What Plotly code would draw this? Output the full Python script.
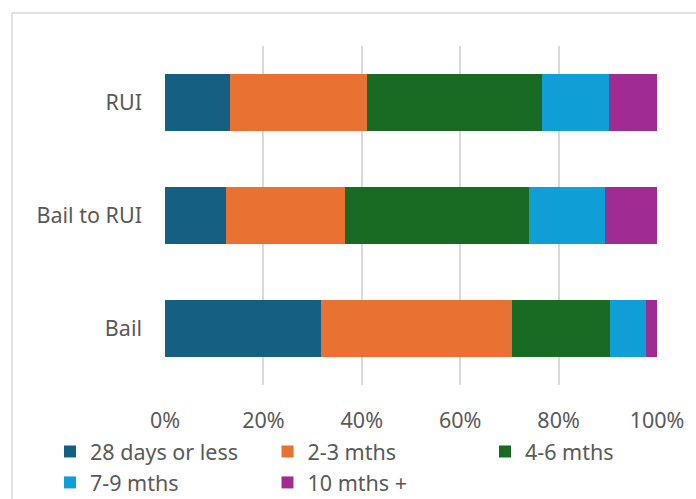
import plotly.graph_objects as go

categories = ["Bail", "Bail to RUI", "RUI"]
series_names = ["28 days or less", "2-3 mths", "4-6 mths", "7-9 mths", "10 mths +"]
days28 = [31.8, 12.3, 13.2]
m2_3 = [38.8, 24.2, 27.8]
m4_6 = [19.9, 37.4, 35.6]
m7_9 = [7.2, 15.6, 13.6]
m10p = [2.3, 10.5, 9.8]
tick_vals = [0, 20, 40, 60, 80, 100]
tick_text = ["0%", "20%", "40%", "60%", "80%", "100%"]

colors = ["#156082", "#E97132", "#196B24", "#0F9ED5", "#A02B93"]
values = [days28, m2_3, m4_6, m7_9, m10p]

FONT = "Noto Sans"
TXT = "#595959"
GRID = "#D9D9D9"

fig = go.Figure()
for name, vals, col in zip(series_names, values, colors):
    fig.add_trace(go.Bar(
        y=categories, x=vals, name=name, orientation="h",
        marker=dict(color=col, line=dict(width=0)),
    ))

fig.update_layout(
    width=696, height=499,
    barmode="stack", barnorm="percent", bargap=0.5,
    margin=dict(l=165, r=39, t=46, b=114, autoexpand=False),
    paper_bgcolor="white", plot_bgcolor="white",
    font=dict(family=FONT, size=21.5, color=TXT),
    showlegend=True,
    legend=dict(
        orientation="h", xref="paper", yref="paper",
        x=(50-165)/492, xanchor="left", y=(385-431)/339, yanchor="top",
        entrywidth=172.5, entrywidthmode="pixels",
        traceorder="normal",
        font=dict(family=FONT, size=21.5, color=TXT),
        bgcolor="rgba(0,0,0,0)", borderwidth=0,
    ),
    xaxis=dict(
        range=[0, 100], tickvals=tick_vals, ticktext=tick_text,
        showgrid=True, gridcolor=GRID, gridwidth=1.5,
        zeroline=False, showline=False, ticks="",
        ticklabelstandoff=20, fixedrange=True,
    ),
    yaxis=dict(
        categoryorder="array", categoryarray=categories,
        showgrid=False, zeroline=False, showline=False, ticks="",
        ticklabelstandoff=22,
    ),
    shapes=[dict(
        type="rect", xref="paper", yref="paper",
        x0=(12-165)/492, x1=(710-165)/492,
        y0=(385-510)/339, y1=(385-13)/339,
        line=dict(color=GRID, width=1.5), fillcolor="rgba(0,0,0,0)",
        layer="below",
    )],
)

fig.write_html("out.html")
